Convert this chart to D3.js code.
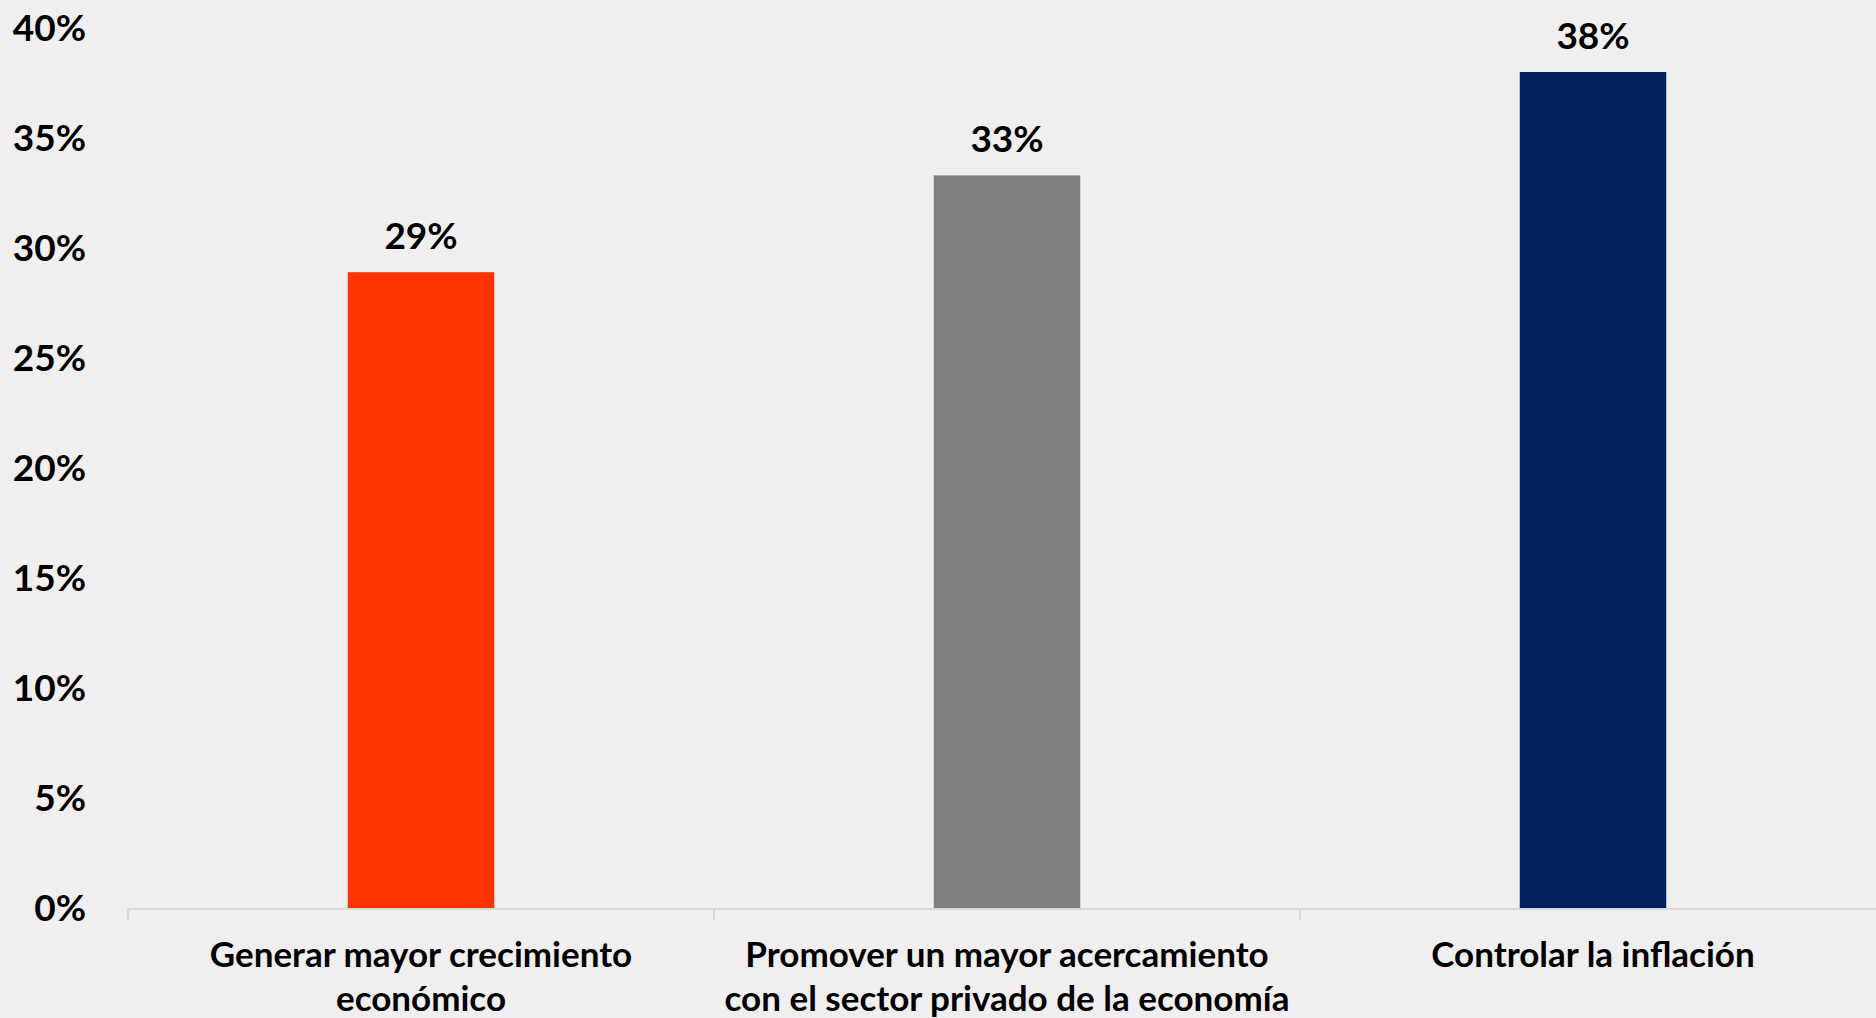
<!DOCTYPE html>
<html>
<head>
<meta charset="utf-8">
<script src="https://cdn.jsdelivr.net/npm/d3@7"></script>
<style>
  html, body { margin: 0; padding: 0; background: #f0eeef; }
  svg { display: block; }
  text { font-family: Lato, "Open Sans", sans-serif; font-weight: bold; fill: #000; }
</style>
</head>
<body>
<svg width="1876" height="1018"></svg>
<script>
var categories = [
    ["Generar mayor crecimiento", "económico"],
    ["Promover un mayor acercamiento", "con el sector privado de la economía"],
    ["Controlar la inflación"]
];
var values = [28.9, 33.3, 38.0];
var valueLabels = ["29%", "33%", "38%"];
var barColors = ["#ff3300", "#7f7f7f", "#002060"];
var yTicks = [0, 5, 10, 15, 20, 25, 30, 35, 40];

var svg = d3.select("svg");
var width = 1876, height = 1018;

var x = d3.scaleBand()
    .domain(d3.range(categories.length))
    .range([128, 1886])
    .paddingInner(0)
    .paddingOuter(0);

var y = d3.scaleLinear()
    .domain([0, 40])
    .range([908, 28]);

// y tick labels (no axis line, no gridlines)
svg.append("g")
    .selectAll("text")
    .data(yTicks)
    .join("text")
    .attr("x", 86)
    .attr("y", function(d) { return y(d) + 13; })
    .attr("text-anchor", "end")
    .style("font-size", "37px")
    .text(function(d) { return d + "%"; });

// bars
var barW = x.bandwidth() * 0.25;
svg.append("g")
    .selectAll("rect")
    .data(values)
    .join("rect")
    .attr("x", function(d, i) { return x(i) + (x.bandwidth() - barW) / 2; })
    .attr("y", function(d) { return y(d); })
    .attr("width", barW)
    .attr("height", function(d) { return y(0) - y(d); })
    .attr("fill", function(d, i) { return barColors[i]; });

// value labels
svg.append("g")
    .selectAll("text")
    .data(values)
    .join("text")
    .attr("x", function(d, i) { return x(i) + x.bandwidth() / 2; })
    .attr("y", function(d) { return y(d) - 23; })
    .attr("text-anchor", "middle")
    .style("font-size", "37px")
    .text(function(d, i) { return valueLabels[i]; });

// x axis line and category ticks
var xAxis = svg.append("g");
xAxis.append("line")
    .attr("x1", 128).attr("x2", width)
    .attr("y1", y(0) + 1).attr("y2", y(0) + 1)
    .attr("stroke", "#d9d9d9")
    .attr("stroke-width", 2);

xAxis.selectAll("line.tick")
    .data(d3.range(categories.length))
    .join("line")
    .attr("class", "tick")
    .attr("x1", function(i) { return x(i); })
    .attr("x2", function(i) { return x(i); })
    .attr("y1", y(0) + 1)
    .attr("y2", y(0) + 12)
    .attr("stroke", "#d9d9d9")
    .attr("stroke-width", 2);

// category labels
var lab = svg.append("g")
    .selectAll("text")
    .data(categories)
    .join("text")
    .attr("text-anchor", "middle")
    .style("font-size", "35px");

lab.selectAll("tspan")
    .data(function(d, i) { return d.map(function(s) { return { s: s, i: i }; }); })
    .join("tspan")
    .attr("x", function(d) { return x(d.i) + x.bandwidth() / 2; })
    .attr("y", function(d, j) { return 967 + j * 44; })
    .text(function(d) { return d.s; });
</script>
</body>
</html>
